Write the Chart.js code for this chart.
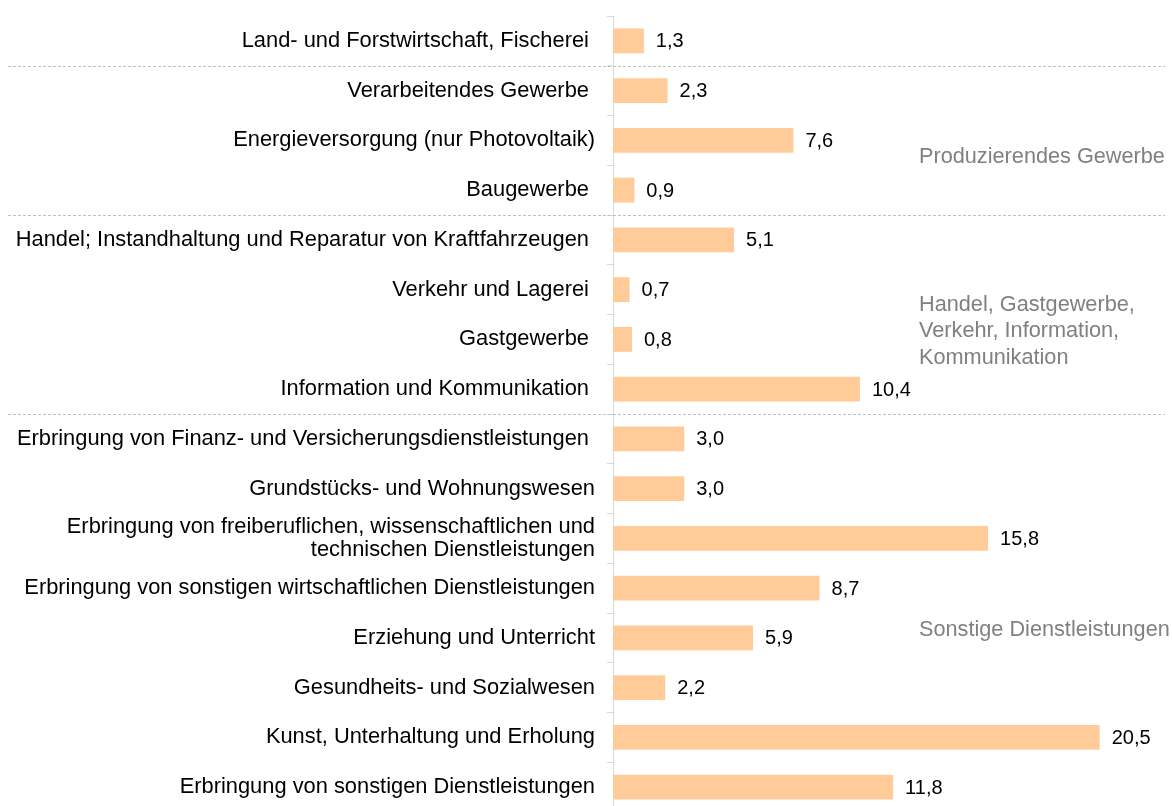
<!DOCTYPE html>
<html>
<head>
<meta charset="utf-8">
<script src="https://cdn.jsdelivr.net/npm/chart.js@4/dist/chart.umd.min.js"></script>
<style>
html,body{margin:0;padding:0;width:1172px;height:806px;overflow:hidden;background:#fff;}
#wrap{width:1172px;height:812px;position:relative;}
</style>
</head>
<body>
<div id="wrap"><canvas id="c"></canvas></div>
<script>
const categories = [
  "Land- und Forstwirtschaft, Fischerei ",
  "Verarbeitendes Gewerbe ",
  "Energieversorgung (nur Photovoltaik)",
  "Baugewerbe ",
  "Handel; Instandhaltung und Reparatur von Kraftfahrzeugen ",
  "Verkehr und Lagerei ",
  "Gastgewerbe ",
  "Information und Kommunikation ",
  "Erbringung von Finanz- und Versicherungsdienstleistungen ",
  "Grundstücks- und Wohnungswesen",
  ["Erbringung von freiberuflichen, wissenschaftlichen und", "technischen Dienstleistungen"],
  "Erbringung von sonstigen wirtschaftlichen Dienstleistungen",
  "Erziehung und Unterricht",
  "Gesundheits- und Sozialwesen",
  "Kunst, Unterhaltung und Erholung",
  "Erbringung von sonstigen Dienstleistungen"
];
const values = [1.3, 2.3, 7.6, 0.9, 5.1, 0.7, 0.8, 10.4, 3.0, 3.0, 15.8, 8.7, 5.9, 2.2, 20.5, 11.8];

// group labels and their first/last category index
const groupLabels = [
  ["Produzierendes Gewerbe"],
  ["Handel, Gastgewerbe,", "Verkehr, Information,", "Kommunikation"],
  ["Sonstige Dienstleistungen"]
];
const groupStart = [1, 4, 8];
const groupEnd = [3, 7, 15];

const FONT = "'Liberation Sans', Arial, sans-serif";

const overlay = {
  id: 'overlay',
  afterDatasetsDraw(chart) {
    const ctx = chart.ctx;
    const y = chart.scales.y;
    const meta = chart.getDatasetMeta(0);
    ctx.save();
    // value labels
    ctx.font = "20px " + FONT;
    ctx.fillStyle = "#000";
    ctx.textAlign = "left";
    ctx.textBaseline = "middle";
    meta.data.forEach((bar, i) => {
      ctx.fillText(values[i].toFixed(1).replace('.', ','), bar.x + 12, bar.y + 1);
    });
    // dashed separators
    ctx.strokeStyle = "#bfbfbf";
    ctx.lineWidth = 1;
    ctx.setLineDash([3, 2]);
    groupStart.forEach(s => {
      const py = Math.round((y.getPixelForValue(s - 1) + y.getPixelForValue(s)) / 2) + 0.5;
      ctx.beginPath();
      ctx.moveTo(8, py);
      ctx.lineTo(1165, py);
      ctx.stroke();
    });
    ctx.setLineDash([]);
    // group labels
    ctx.font = "21.7px " + FONT;
    ctx.fillStyle = "#808080";
    const lh = 26.5;
    groupLabels.forEach((lines, g) => {
      const cy = (y.getPixelForValue(groupStart[g]) + y.getPixelForValue(groupEnd[g])) / 2 + 17;
      lines.forEach((t, k) => {
        ctx.fillText(t, 919, cy + (k - (lines.length - 1) / 2) * lh);
      });
    });
    ctx.restore();
  }
};

new Chart(document.getElementById('c'), {
  type: 'bar',
  data: {
    labels: categories,
    datasets: [{
      data: values,
      backgroundColor: '#ffcc99',
      borderWidth: 0,
      barPercentage: 0.5,
      categoryPercentage: 1.0
    }]
  },
  options: {
    indexAxis: 'y',
    responsive: true,
    maintainAspectRatio: false,
    animation: false,
    layout: { padding: { top: 16, right: 13, bottom: 0, left: 0 } },
    plugins: { legend: { display: false }, tooltip: { enabled: false } },
    scales: {
      x: {
        display: false,
        min: 0,
        max: 23
      },
      y: {
        afterFit(scale) {
          scale.width = 613;
          scale.paddingTop = 0;
          scale.paddingBottom = 0;
        },
        grid: {
          display: true,
          drawOnChartArea: false,
          drawTicks: true,
          tickLength: 6,
          color: '#d9d9d9',
          offset: true
        },
        border: { display: true, color: '#d9d9d9', width: 1 },
        ticks: {
          color: '#000',
          padding: 12,
          font: { family: FONT, size: 21.85, lineHeight: 1.08 },
          autoSkip: false
        }
      }
    }
  },
  plugins: [overlay]
});
</script>
</body>
</html>
